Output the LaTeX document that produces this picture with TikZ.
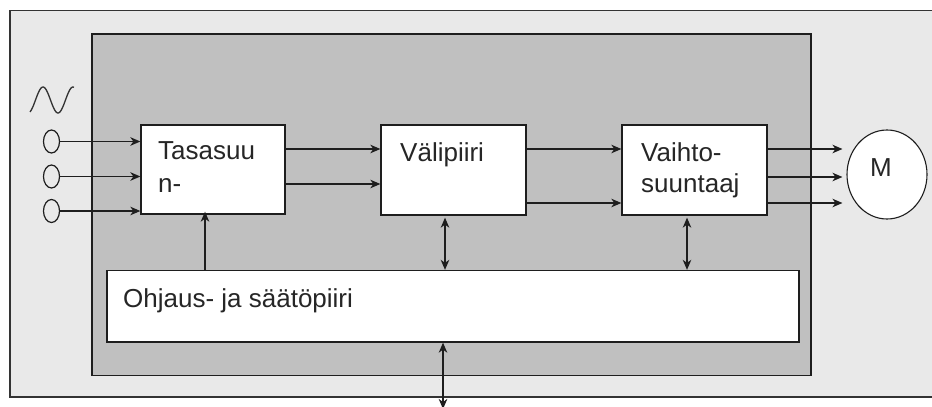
\documentclass[tikz,border=0pt]{standalone}
\usepackage{fontspec}
\setmainfont{Liberation Sans}
\usetikzlibrary{arrows.meta,calc,shapes.geometric}
\definecolor{outerbg}{HTML}{E9E9E9}
\definecolor{innerbg}{HTML}{C0C0C0}
\definecolor{edge}{HTML}{1E1E1E}
\tikzset{
  blockbox/.style={draw=edge, line width=1.3pt, fill=white, inner sep=0pt},
  blocktext/.style={anchor=base west, inner sep=0pt, font=\fontsize{26}{32}\selectfont, align=left, text=black!85},
  tip/.tip={Stealth[length=10pt,width=8.5pt,inset=3pt]},
  conn/.style={line width=1.3pt, draw=edge, -tip},
  dconn/.style={line width=1.3pt, draw=edge, tip-tip},
  terminal/.style={draw=edge, line width=1.2pt, ellipse, minimum width=16pt, minimum height=23pt, inner sep=0pt},
}
\begin{document}
\begin{tikzpicture}[x=1pt,y=-1pt]
\useasboundingbox (0,0) rectangle (932,407);
\clip (0,0) rectangle (932,407);
\fill[white] (0,0) rectangle (932,407);
% outer frame
\draw[fill=outerbg, draw=black!80, line width=1.6pt] (10,10.5) rectangle (960,397);
% inner grey area
\draw[fill=innerbg, draw=edge, line width=1.4pt] (92,34) rectangle (811,375.5);
% blocks
\node[blockbox, minimum width=144pt, minimum height=89pt] (tas) at (213,169.5) {};
\node[blockbox, minimum width=145pt, minimum height=90pt] (val) at (453.5,170) {};
\node[blockbox, minimum width=145pt, minimum height=90pt] (vai) at (694.5,170) {};
\node[blockbox, minimum width=692pt, minimum height=71.5pt] (ohj) at (453,306.25) {};
% texts
\node[blocktext] (tasT) at (158,159) {Tasasuu};
\node[blocktext] (tasT2) at (158,192.5) {n-};
\node[blocktext] (valT) at (400,161) {Välipiiri};
\node[blocktext] (vaiT) at (641,161) {Vaihto-};
\node[blocktext] (vaiT2) at (641,192.5) {suuntaaj};
\node[blocktext] (ohjT) at (123,307) {Ohjaus- ja säätöpiiri};
% motor
\node[draw=edge, line width=1.1pt, ellipse, minimum width=80pt, minimum height=89pt, fill=white, inner sep=0pt] (m) at (887,174.5) {};
\node[blocktext, anchor=base] (mT) at (881,176) {M};
% AC symbol
\draw[line width=1.3pt, draw=black!80] plot[domain=30:74, samples=60, smooth] (\x, {100-13*sin((\x-35.5)*12)});
% input terminals
\node[terminal] (o1) at (51.5,141.5) {};
\node[terminal] (o2) at (51.5,176.5) {};
\node[terminal] (o3) at (51.5,211) {};
\draw[conn] (o1.east) -- (o1.east -| tas.west);
\draw[conn] (o2.east) -- (o2.east -| tas.west);
\draw[conn] (o3.east) -- (o3.east -| tas.west);
% rectifier -> DC link
\draw[conn] (tas.east |- 0,149) -- (val.west |- 0,149);
\draw[conn] (tas.east |- 0,184) -- (val.west |- 0,184);
% DC link -> inverter
\draw[conn] (val.east |- 0,149) -- (vai.west |- 0,149);
\draw[conn] (val.east |- 0,203) -- (vai.west |- 0,203);
% inverter -> motor
\draw[conn] (vai.east |- 0,149) -- ([xshift=-4pt]m.west |- 0,149);
\draw[conn] (vai.east |- 0,177) -- ([xshift=-4pt]m.west |- 0,177);
\draw[conn] (vai.east |- 0,203) -- ([xshift=-4pt]m.west |- 0,203);
% control connections
\draw[conn, shorten >=-3pt] (ohj.north -| 205,0) -- (tas.south -| 205,0);
\draw[dconn, shorten <=2pt] (val.south -| 445,0) -- (ohj.north -| 445,0);
\draw[dconn, shorten <=2pt] (vai.south -| 687,0) -- (ohj.north -| 687,0);
\coordinate (ext) at (443,409);
\draw[dconn] (ext) -- (ohj.south -| ext);
\end{tikzpicture}
\end{document}
